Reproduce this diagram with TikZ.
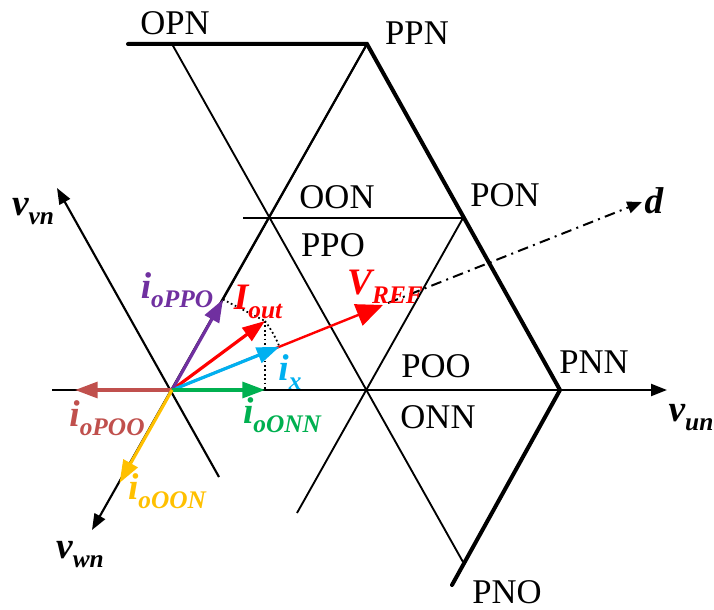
\documentclass[tikz,border=0pt]{standalone}
\usepackage{fontspec}
\setmainfont{Liberation Serif}
\usetikzlibrary{arrows.meta}
\definecolor{cpur}{RGB}{112,48,160}
\definecolor{ccyan}{RGB}{0,176,240}
\definecolor{cgreen}{RGB}{0,176,80}
\definecolor{cbrown}{RGB}{192,80,77}
\definecolor{cgold}{RGB}{255,192,0}
\newcommand{\subx}[1]{\raisebox{-0.24em}{\fontsize{19}{19}\selectfont #1}}
\begin{document}
\begin{tikzpicture}[x=0.75pt,y=-0.75pt,
  latline/.style={line width=1.4pt,black},
  thickline/.style={line width=3pt,black,line cap=round},
  axisline/.style={line width=1.6pt,black,-{Triangle[length=12pt,width=9pt]}},
  vecline/.style={line width=2.4pt,-{Triangle[length=17pt,width=12pt]}},
  statelbl/.style={font=\fontsize{26}{28}\selectfont,inner sep=0pt},
  veclbl/.style={font=\fontsize{28}{28}\selectfont\bfseries\itshape,inner sep=0pt}]
\useasboundingbox (0,0) rectangle (714,610);
% lattice points
\coordinate (O) at (172,390);
\coordinate (A) at (367,390);
\coordinate (PNNp) at (560,390);
\coordinate (PPNp) at (367,44);
\coordinate (TL) at (128,44);
\coordinate (T0) at (172,44);
\coordinate (PONp) at (463,218);
\coordinate (Hl) at (243,218);
\coordinate (LB) at (463,562);
\coordinate (PNOe) at (452,585);
\coordinate (Hleft) at (52,390);
\coordinate (Hright) at (667,390);
\coordinate (VVtip) at (57,188);
\coordinate (VVtail) at (219,477);
\coordinate (VWtip) at (92,530);
\coordinate (Aend) at (297,513);
% vector tips
\coordinate (Vref) at (383,305);
\coordinate (Dstart) at (388,303);
\coordinate (Dtip) at (642,202);
\coordinate (Iout) at (265,321);
\coordinate (Ix) at (279.5,346.8);
\coordinate (Ppo) at (223,299.5);
\coordinate (Onn) at (265,390);
\coordinate (Onnfoot) at (265,390);
\coordinate (Poo) at (75,390);
\coordinate (Oon) at (119.5,483);
% lattice lines
\draw[latline] (T0) -- (LB);
\draw[latline] (PPNp) -- (O);
\draw[latline] (Hl) -- (PONp);
\draw[latline] (PONp) -- (Aend);
\draw[thickline] (TL) -- (PPNp) -- (PNNp) -- (PNOe);
% axes
\draw[axisline] (Hleft) -- (Hright);
\draw[axisline] (VVtail) -- (VVtip);
\draw[axisline] (PPNp) -- (VWtip);
% dash-dot d axis
\draw[line width=1.5pt,dash pattern=on 8pt off 4pt on 1.5pt off 4pt,-{Triangle[length=11pt,width=9pt]}] (Dstart) -- (Dtip);
% dotted construction
\draw[line width=1.3pt,dotted] (Ppo) -- (Iout);
\draw[line width=1.3pt,dotted] (Iout) -- (Onnfoot);
\draw[line width=1.3pt,dotted] (Iout) arc[start angle=36.6,end angle=21.9,radius=86.85pt];
% vectors
\draw[line width=1.8pt,red,-{Triangle[length=20pt,width=17pt]}] (O) -- (Vref);
\draw[vecline,red] (O) -- (Iout);
\draw[vecline,ccyan] (O) -- (Ix);
\draw[vecline,cpur] (O) -- (Ppo);
\draw[vecline,cgreen] (O) -- (Onn);
\draw[vecline,cbrown] (O) -- (Poo);
\draw[vecline,cgold] (O) -- (Oon);
% state labels
\node[statelbl] (lOPN) at (175,23.5) {OPN};
\node[statelbl] (lPPN) at (417,33) {PPN};
\node[statelbl] (lOON) at (337,197) {OON};
\node[statelbl] (lPPO) at (333,245) {PPO};
\node[statelbl] (lPON) at (505,195) {PON};
\node[statelbl] (lPOO) at (436,366) {POO};
\node[statelbl] (lONN) at (438,417) {ONN};
\node[statelbl] (lPNN) at (594,362) {PNN};
\node[statelbl] (lPNO) at (507,592) {PNO};
% vector labels
\node[veclbl] (lvvn) at (33,212) {v\subx{vn}};
\node[veclbl] (lvwn) at (80,555) {v\subx{wn}};
\node[veclbl] (lvun) at (691,418) {v\subx{un}};
\node[veclbl] (ld) at (654,201) {d};
\node[veclbl,text=cpur] (lPPO2) at (177,290) {i\subx{oPPO}};
\node[veclbl,text=red] (lIout) at (258,302) {I\subx{out}};
\node[veclbl,text=red] (lVref) at (385,287) {V\subx{REF}};
\node[veclbl,text=ccyan] (lix) at (290,372) {i\subx{x}};
\node[veclbl,text=cgreen] (lONN2) at (282,415) {i\subx{oONN}};
\node[veclbl,text=cbrown] (lPOO2) at (107,418) {i\subx{oPOO}};
\node[veclbl,text=cgold] (lOON2) at (167,491) {i\subx{oOON}};
\end{tikzpicture}
\end{document}
